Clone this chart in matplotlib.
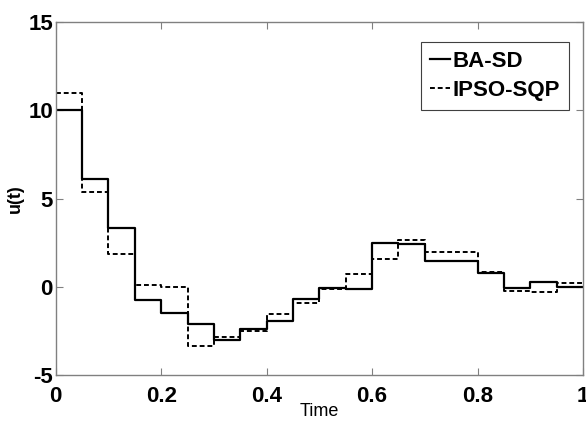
import matplotlib
matplotlib.use("Agg")
import matplotlib.pyplot as plt

# step edges (time) and control values
t_edges = [0.0, 0.05, 0.1, 0.15, 0.2, 0.25, 0.3, 0.35, 0.4, 0.45, 0.5,
           0.55, 0.6, 0.65, 0.7, 0.75, 0.8, 0.85, 0.9, 0.95, 1.0]
ba_sd = [10.0, 6.08, 3.31, -0.75, -1.47, -2.13, -3.02, -2.36, -1.94, -0.66,
         -0.04, -0.13, 2.49, 2.42, 1.47, 1.47, 0.81, -0.04, 0.27, 0.0]
ipso_sqp = [10.97, 5.35, 1.85, 0.1, 0.0, -3.34, -2.83, -2.51, -1.55, -0.9,
            -0.13, 0.72, 1.57, 2.65, 1.95, 1.95, 0.84, -0.22, -0.3, 0.19]

x_ticks = [0, 0.2, 0.4, 0.6, 0.8, 1]
x_labels = ["0", "0.2", "0.4", "0.6", "0.8", "1"]
y_ticks = [-5, 0, 5, 10, 15]
y_labels = ["-5", "0", "5", "10", "15"]

font = ["Liberation Sans", "DejaVu Sans"]

fig = plt.figure(figsize=(5.86, 4.22), dpi=100)
ax = fig.add_axes([0.095, 0.111, 0.9, 0.837])

# repeat last value so the final step reaches t = 1
ax.step(t_edges, ba_sd + [ba_sd[-1]], where="post", color="black",
        linewidth=1.6, label="BA-SD")
ax.step(t_edges, ipso_sqp + [ipso_sqp[-1]], where="post", color="black",
        linewidth=1.4, linestyle=(0, (2.5, 1.5)), label="IPSO-SQP")

ax.set_xlim(0, 1)
ax.set_ylim(-5, 15)
ax.set_xticks(x_ticks)
ax.set_xticklabels(x_labels, family=font, fontweight="bold", fontsize=16)
ax.set_yticks(y_ticks)
ax.set_yticklabels(y_labels, family=font, fontweight="bold", fontsize=16)
ax.tick_params(axis="x", direction="in", length=5, color="#808080",
               top=True, pad=8)
ax.tick_params(axis="y", direction="in", length=5, color="#808080",
               right=True, pad=2)
for sp in ax.spines.values():
    sp.set_color("#808080")
    sp.set_linewidth(1.0)

ax.set_xlabel("Time", family=font, fontsize=13, labelpad=-3)
ax.set_ylabel("u(t)", family=font, fontweight="bold",
              fontsize=13, labelpad=3)

leg = ax.legend(loc="upper right", bbox_to_anchor=(0.973, 0.943),
                borderaxespad=0, fancybox=False, framealpha=1,
                handlelength=0.9, handletextpad=0.1, labelspacing=0.35,
                borderpad=0.4,
                prop={"family": font, "weight": "bold", "size": 16})
leg.get_frame().set_edgecolor("#404040")
leg.get_frame().set_linewidth(0.8)

fig.savefig("out.png", dpi=100)
